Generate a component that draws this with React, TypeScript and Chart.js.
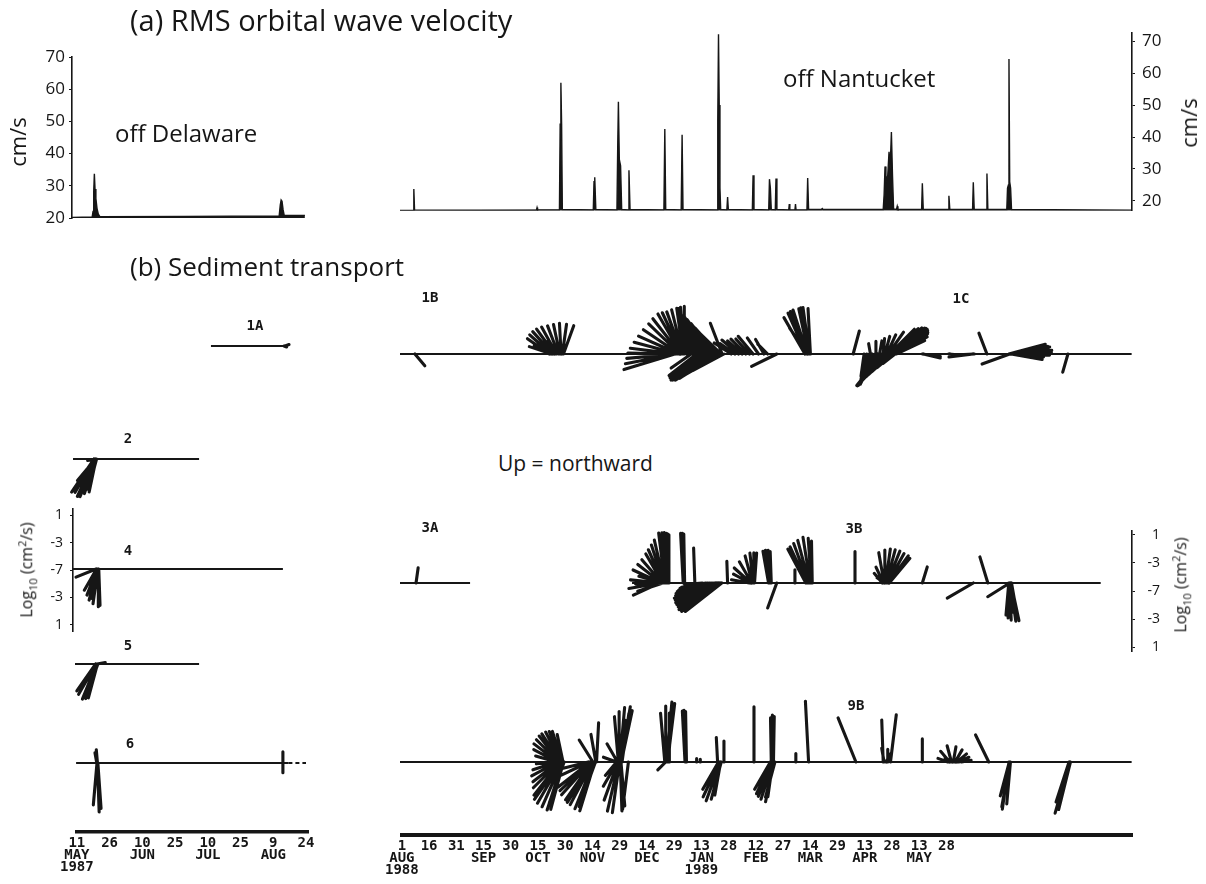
import React, { useEffect, useRef } from "react";
import { Chart, registerables } from "chart.js";
Chart.register(...registerables);

const INK = "#161616";
const SANS = "'Open Sans', 'DejaVu Sans', sans-serif";
const MONO = "'DejaVu Sans Mono', monospace";

// ---------------- DATA ----------------
// Time axes: days since 11 May 1987 (Delaware) and 1 Aug 1988 (Nantucket)
const DEL_TICK_DAYS = [0, 15, 30, 45, 60, 75, 90, 105];
const DEL_TICK_LABELS = [["11", "MAY", "1987"], ["26"], ["10", "JUN"], ["25"], ["10", "JUL"], ["25"], ["9", "AUG"], ["24"]];
const NAN_TICK_DAYS = [0, 15, 30, 45, 60, 75, 90, 105, 120, 135, 150, 165, 180, 195, 210, 225, 240, 255, 270, 285, 300];
const NAN_TICK_LABELS = [["1", "AUG", "1988"], ["16"], ["31"], ["15", "SEP"], ["30"], ["15", "OCT"], ["30"], ["14", "NOV"], ["29"], ["14", "DEC"], ["29"], ["13", "JAN", "1989"], ["28"], ["12", "FEB"], ["27"], ["14", "MAR"], ["29"], ["13", "APR"], ["28"], ["13", "MAY"], ["28"]];

// (a) RMS orbital wave velocity, cm/s
const VEL_TICKS = [20, 30, 40, 50, 60, 70];
const DEL_VEL_DAYS = [-1.3, 7.8, 8.2, 8.5, 8.8, 9.1, 9.5, 10.0, 10.6, 11.3, 50, 92.8, 93.3, 93.7, 94.1, 94.6, 95.1, 104.5];
const DEL_VEL = [20.2, 20.3, 22, 28, 33.7, 29, 26, 23, 21.2, 20.4, 20.5, 20.6, 24, 25.6, 25.2, 22.5, 20.8, 20.8];
const NAN_VEL_DAYS = [0, 7.2, 7.6, 8.0, 75, 75.3, 75.6, 87.6, 88.0, 88.4, 88.8, 89.2, 106.2, 106.6, 107.0, 107.6, 119.2, 119.6, 120.0, 120.5, 121.2, 121.8, 125.3, 125.8, 126.4, 145.0, 145.5, 146.0, 154.5, 155.0, 155.5, 174.2, 174.6, 175.0, 175.4, 175.8, 176.2, 179.6, 180.0, 180.4, 193.6, 194.0, 194.5, 202.6, 203.0, 203.5, 204.0, 206.2, 206.6, 207.1, 213.6, 213.9, 214.2, 217.0, 217.3, 217.6, 223.6, 224.0, 224.5, 231.5, 232.0, 232.5, 265.5, 266.0, 266.5, 267.0, 268.0, 268.7, 269.3, 270.0, 270.6, 271.2, 272.8, 273.2, 273.6, 286.6, 287.0, 287.5, 301.2, 301.6, 302.1, 314.6, 315.0, 315.5, 322.1, 322.5, 323.0, 333.4, 333.8, 334.3, 334.6, 335.0, 335.5, 336.0, 402.2];
const NAN_VEL = [17.0, 17.0, 23.7, 17.1, 17.2, 17.9, 17.2, 17.2, 44, 57, 44, 17.3, 17.2, 26, 27.4, 17.3, 17.2, 36, 51, 33, 31, 17.3, 17.2, 29.6, 17.3, 17.2, 42.5, 17.3, 17.2, 40.7, 17.3, 17.2, 45, 72.2, 50, 24, 17.3, 17.2, 21.2, 17.3, 17.2, 28, 17.3, 17.2, 26.8, 24, 17.3, 17.2, 27.0, 17.3, 17.2, 19.0, 17.2, 17.2, 19.0, 17.2, 17.2, 27.2, 17.3, 17.3, 17.6, 17.3, 17.3, 22, 30.8, 26, 28, 35.4, 30, 41.6, 28, 17.5, 17.3, 18.3, 17.3, 17.3, 25.5, 17.3, 17.3, 21.6, 17.3, 17.3, 25.8, 17.3, 17.3, 28.6, 17.3, 17.3, 24, 25, 64.4, 26, 24, 17.3, 17.1];

// (b) Sediment transport sticks: [day, bearing deg clockwise from north, log10(q)+7]
const LOG_TICKS = [-8, -4, 0, 4, 8];
const LOG_TICK_LABELS = ["1", "-3", "-7", "-3", "1"];

const SPAN_1A = [61.8, 96.4];
const STICKS_1A = [[95.5, 70, 0.6], [95.0, 110, 0.4]];

const SPAN_2 = [-0.9, 56.4];
const STICKS_2 = [[8.6, -146, 5.7], [8.8, -150, 5.5], [9.0, -155, 5.9], [9.2, -158, 5.8], [9.4, -162, 5.2], [9.6, -168, 4.8], [9.8, -165, 4.5], [9.3, -140, 4.0], [9.5, -100, 1.2]];

const SPAN_4 = [-0.9, 94.5];
const STICKS_4 = [[9.6, -112, 3.1], [9.8, -150, 3.5], [10.0, -159, 4.0], [10.2, -165, 4.6], [10.4, -172, 5.0], [10.6, 180, 5.4], [10.8, 178, 5.2], [10.5, -168, 4.3]];

const SPAN_5 = [0, 56.4];
const STICKS_5 = [[9.4, -145, 4.7], [9.6, -150, 5.0], [9.8, -158, 5.4], [10.0, -162, 5.2], [10.2, -165, 5.0], [10.4, -160, 4.2], [10.0, 80, 1.2]];

const SPAN_6 = [0.5, 97];
const SPAN_6_DASH = [97, 105];
const STICKS_6 = [[10.2, 178, 7.0], [10.4, 176, 6.5], [10.0, -175, 6.0], [10.2, -5, 1.9], [9.9, -10, 1.5], [94.5, 0, 1.6], [94.5, 180, 1.4]];

const SPAN_1BC = [0, 402];
const STICKS_1BC = [
  [8.2, 140, 2.2],
  [82.0, -55, 3.8], [83.0, -48, 4.1], [84.0, -42, 4.3], [85.0, -36, 4.4], [86.0, -29, 4.4], [87.0, -21, 4.3], [87.8, -12, 4.3], [88.5, -3, 4.4], [89.2, 8, 4.3], [89.8, 20, 4.3], [83.5, -72, 3.4], [85.5, -68, 3.3], [87.5, -62, 3.0], [88.5, -50, 2.8],
  [151.0, -107, 7.6], [151.4, -101, 7.3], [151.8, -95, 7.1], [152.1, -89, 7.0], [152.5, -83, 6.8], [152.8, -75, 6.5], [153.2, -66, 6.3], [153.5, -56, 6.2], [153.8, -46, 6.2], [154.1, -38, 6.4], [154.4, -30, 6.6], [154.7, -25, 6.5], [155.0, -20, 6.4], [155.3, -14, 6.5], [155.6, -8, 6.6], [155.9, -4, 6.7], [156.2, 0, 6.8],
  [157.5, -10, 6.6], [159, -14, 6.5], [161, -18, 6.4], [163, -22, 6.4], [165, -26, 6.5], [167, -30, 6.3], [169, -32, 6.2], [171, -35, 6.0], [173, -38, 5.5], [175, -42, 5.0], [176.5, -46, 4.2],
  [158, -12, 5.8], [160, -16, 5.9], [162, -20, 6.0], [164, -24, 6.1], [166, -28, 5.9], [168, -31, 5.8], [170, -34, 5.6], [172, -37, 5.2], [174, -40, 4.8],
  [160, -125, 3.5], [163, -128, 5.0], [166, -130, 5.8], [169, -128, 6.0], [172, -125, 6.3], [175, -122, 6.0], [178, -118, 5.0], [164.5, -129, 5.4], [167.5, -129, 5.9], [170.5, -127, 6.2], [173.5, -124, 6.2], [176.5, -120, 5.5],
  [177, -21, 4.7], [182, -57, 2.9], [186, -50, 3.1], [190, -45, 3.0], [194, -40, 3.3], [197, -35, 2.8], [200, -30, 2.4], [202, -45, 2.0], [184, -55, 2.6], [188, -48, 2.8], [192, -42, 2.9],
  [207, -116, 4.0],
  [222.5, -30, 6.0], [223.2, -24, 6.4], [223.8, -18, 6.6], [224.4, -12, 6.6], [225.0, -8, 6.7], [225.5, -3, 6.5], [224.0, -35, 4.5], [223.5, -21, 6.5], [224.7, -10, 6.7],
  [249, 15, 3.4],
  [255, -172, 3.2], [256.5, -167, 3.8], [258, -162, 4.3], [259.5, -158, 4.6], [261, -154, 4.8],
  [262, -150, 4.5], [263, -147, 5.2], [264, -144, 5.6], [265, -141, 5.8], [266, -140, 5.8], [267, -138, 5.6], [268, -136, 5.2], [269, -134, 4.6], [270, -132, 3.8], [271, -130, 3.0], [272, -128, 2.2], [262.5, -148, 4.9], [263.5, -146, 5.4], [264.5, -143, 5.7], [265.5, -141, 5.8], [266.5, -139, 5.7], [267.5, -137, 5.4], [268.5, -135, 4.9], [269.5, -133, 4.2],
  [258.5, -10, 1.5], [261.5, 0, 1.8], [263.5, 10, 1.9],
  [265.5, 5, 2.2], [266.5, 15, 2.6], [267.5, 25, 3.0], [268.3, 35, 3.8], [269.0, 45, 5.0], [269.6, 50, 5.8], [270.2, 53, 6.1], [270.8, 56, 6.0], [271.4, 59, 5.6], [272.0, 62, 5.2], [272.6, 65, 4.5], [269.3, 48, 5.4], [269.9, 52, 6.0], [270.5, 55, 6.1], [271.1, 58, 5.8],
  [287, 98, 2.6], [287.5, 103, 2.5],
  [301.5, 95, 1.6], [302, 100, 1.4], [315, -97, 3.5], [315.5, -93, 3.0],
  [322.5, -21, 3.2],
  [335, -110, 4.2],
  [334.5, 75, 5.4], [335.0, 80, 5.8], [335.5, 85, 5.9], [336.0, 88, 5.7], [336.5, 92, 5.3], [335.2, 95, 4.8], [335.8, 100, 4.5], [336.2, 78, 5.2], [334.8, 83, 5.6], [335.3, 90, 5.5],
  [367, -164, 2.7],
];

const SPAN_3A = [0, 38.5];
const STICKS_3A = [[8.8, 8, 2.2]];

const SPAN_3B = [127.5, 385];
const STICKS_3B = [
  [142.5, -115, 4.1], [142.8, -100, 4.5], [143.1, -84, 4.3], [143.4, -65, 4.4], [143.7, -52, 4.3], [144.0, -41, 4.4], [144.3, -30, 4.8], [144.6, -24, 5.2], [144.9, -18, 5.7], [145.2, -13, 6.3], [145.5, -7, 7.2], [145.8, -4, 7.2], [146.1, -2, 7.2], [146.4, 0, 7.1], [146.7, 1, 7.0], [144.5, -108, 3.8], [144.8, -92, 4.0], [145.0, -75, 3.7], [147.0, 0, 7.0], [147.3, 1, 6.9],
  [155.6, -3, 7.1], [156.0, -2, 7.1], [156.4, -1, 7.0],
  [162, -2, 5.0],
  [166, -95, 2.5], [168, -100, 3.5], [170, -103, 4.5], [172, -106, 5.5], [173.5, -110, 6.3], [174.5, -115, 6.6], [175.5, -120, 6.8], [176.2, -126, 6.9], [176.8, -128, 6.6], [175.0, -124, 6.8], [176.0, -112, 6.0], [169, -101, 4.0], [171, -104, 5.0], [173, -108, 5.9], [174, -112, 6.4], [175, -117, 6.7],
  [180, -2, 3.1],
  [192.0, -80, 2.6], [192.4, -62, 2.7], [192.8, -48, 3.2], [193.2, -30, 3.5], [193.6, -15, 4.0], [194.0, -6, 4.3], [194.4, 0, 4.3], [194.8, 4, 4.3],
  [202.5, -10, 4.6], [203.0, -7, 4.7], [203.5, -4, 4.7], [204.0, -2, 4.5],
  [207, -160, 3.8],
  [217, 0, 1.9],
  [223.0, -28, 5.5], [223.6, -25, 5.7], [224.2, -20, 6.0], [224.8, -15, 6.3], [225.4, -9, 6.6], [226.0, -4, 6.4], [226.5, -1, 6.0],
  [250, 0, 4.5],
  [265.0, -40, 1.8], [265.6, -25, 2.5], [266.0, -10, 4.4], [266.4, 0, 4.7], [266.8, 8, 4.9], [267.2, 15, 4.9], [267.6, 22, 4.9], [268.0, 29, 4.8], [268.4, 36, 4.8], [268.8, 40, 4.6], [266.2, -55, 1.3],
  [287, 17, 2.4],
  [315, -120, 4.3],
  [323, -17, 3.9],
  [335, -122, 3.7],
  [334.5, -175, 4.6], [334.8, -178, 5.0], [335.1, 178, 5.3], [335.4, 172, 5.5], [335.7, 168, 5.5], [336.0, 170, 5.0], [335.2, 175, 4.2],
];

const SPAN_9B = [0, 402];
const STICKS_9B = [
  [86.0, -74, 3.1], [86.4, -62, 3.8], [86.8, -53, 4.3], [87.2, -45, 4.5], [87.6, -38, 4.7], [88.0, -33, 4.8], [88.4, -27, 4.8], [88.8, -22, 4.7], [89.2, -18, 4.6], [89.6, -12, 4.0],
  [86.2, -108, 3.6], [86.6, -118, 4.2], [87.0, -128, 4.6], [87.4, -135, 5.2], [87.8, -142, 6.0], [88.2, -145, 6.5], [88.6, -150, 6.8], [89.0, -156, 7.0], [89.4, -162, 7.2], [89.8, -165, 7.0], [90.2, -160, 6.2], [86.4, -95, 3.0],
  [103.5, -104, 4.3], [104.0, -115, 5.0], [104.5, -128, 5.8], [105.0, -138, 6.3], [105.5, -145, 6.6], [106.0, -152, 6.9], [106.5, -158, 7.2], [107.0, -163, 7.3], [107.4, -160, 6.8], [104.8, -133, 6.0], [105.8, -148, 6.8],
  [106.0, -32, 3.7], [108.0, 3, 5.6], [107.6, -10, 4.0],
  [119.0, -70, 2.0], [119.5, -30, 3.0], [120.0, -5, 6.5], [120.4, 0, 7.2], [120.8, 5, 7.8], [121.2, 10, 8.0], [121.6, 12, 7.5], [122.0, 8, 7.0], [120.6, 8, 6.0],
  [119.0, -140, 2.5], [119.4, -150, 4.0], [119.8, -160, 5.8], [120.2, -167, 7.2], [120.6, -172, 7.3], [121.0, 178, 7.0], [121.4, 175, 6.3], [125.5, -173, 6.8],
  [145.5, -5, 7.0], [146.0, 0, 8.0], [146.5, 5, 8.6], [147.0, 7, 8.4], [147.5, 4, 8.0], [148.0, 0, 7.0], [146.0, -135, 1.6],
  [156.6, -3, 7.3], [157.0, -2, 7.4], [157.4, -1, 7.2],
  [163, 0, 0.5], [165, 0, 0.4],
  [174.5, -3, 3.5], [178.0, 0, 3.0],
  [175.0, -150, 4.5], [175.5, -155, 5.5], [176.0, -160, 5.9], [176.5, -165, 5.5], [176.2, -170, 4.8],
  [194.5, 0, 7.9],
  [204.0, -1, 6.3], [204.6, 0, 6.7], [205.2, 1, 6.5],
  [203.5, -150, 4.5], [204.0, -155, 5.0], [204.5, -158, 5.3], [205.0, -162, 5.6], [205.5, -168, 5.8], [206.0, -165, 5.2], [204.8, -172, 5.0],
  [217.5, 0, 1.2],
  [224.5, -3, 8.7],
  [250.5, -22, 6.8],
  [265.5, -2, 6.0], [266.0, -10, 2.0], [267.0, 30, 1.5], [269.5, 7, 6.8], [268.0, 0, 1.8],
  [287.0, 0, 3.3],
  [301.0, -70, 1.5], [302.0, -40, 2.0], [303.0, -15, 2.4], [304.0, 10, 2.2], [305.0, 30, 2.0], [306.0, 50, 1.8], [307.0, 65, 1.6], [308.5, 80, 1.4], [303.5, -60, 1.2], [305.5, 80, 1.0],
  [323.5, -26, 4.3],
  [334.6, -172, 6.8], [335.0, -170, 6.5], [335.4, -175, 6.0], [334.8, -165, 5.0],
  [368.0, -164, 7.6], [368.4, -166, 7.0], [367.6, -162, 6.0],
];

// ---------------- LAYOUT ----------------
const DEL_X0 = 75, DEL_PPD = 2.2;
const NAN_X0 = 400, NAN_PPD = 1.82;
const PPU = 7;

type Box = { left: number; top: number; width: number; height: number };

function baseOptions(padding: any, scales: any) {
  return {
    responsive: false,
    maintainAspectRatio: false,
    animation: false,
    devicePixelRatio: 1,
    events: [],
    layout: { padding },
    plugins: { legend: { display: false }, tooltip: { enabled: false } },
    scales,
  };
}

function stickPoints(sticks: number[][], k: number) {
  const pts: any[] = [];
  for (const [d, b, L] of sticks) {
    const r = (b * Math.PI) / 180;
    pts.push({ x: d, y: 0 }, { x: d + L * Math.sin(r) * k, y: L * Math.cos(r) }, { x: d, y: null });
  }
  return pts;
}

function stickPanel(site: "D" | "N", baseline: number, spans: { s: number[]; dash?: boolean }[], sticks: number[][]) {
  const m = site === "D" ? { x0: DEL_X0, ppd: DEL_PPD, l: 58, r: 322 } : { x0: NAN_X0, ppd: NAN_PPD, l: 385, r: 1145 };
  const t = baseline - 9 * PPU, b = baseline + 9 * PPU;
  const pad = 12;
  const box: Box = { left: m.l - pad, top: t - pad, width: m.r - m.l + 2 * pad, height: b - t + 2 * pad };
  const build = (canvas: HTMLCanvasElement) => {
    const datasets: any[] = spans.map((sp) => ({
      data: [{ x: sp.s[0], y: 0 }, { x: sp.s[1], y: 0 }],
      borderColor: INK,
      borderWidth: 1.9,
      borderDash: sp.dash ? [4, 3] : [],
      pointRadius: 0,
      clip: false,
    }));
    datasets.push({
      data: [],
      borderColor: INK,
      borderWidth: 3.1,
      borderCapStyle: "round",
      borderJoinStyle: "round",
      pointRadius: 0,
      spanGaps: false,
      clip: false,
    });
    const chart = new Chart(canvas, {
      type: "line",
      data: { datasets },
      options: baseOptions(pad, {
        x: { type: "linear", display: false, min: (m.l - m.x0) / m.ppd, max: (m.r - m.x0) / m.ppd },
        y: { type: "linear", display: false, min: -9, max: 9 },
      }),
    } as any);
    const xs: any = chart.scales.x, ys: any = chart.scales.y;
    const k = Math.abs(ys.getPixelForValue(1) - ys.getPixelForValue(0)) / Math.abs(xs.getPixelForValue(1) - xs.getPixelForValue(0));
    (chart.data.datasets[datasets.length - 1] as any).data = stickPoints(sticks, k);
    chart.update();
    return chart;
  };
  return { box, build };
}

function velPanel(site: "D" | "N") {
  const isD = site === "D";
  const area = isD ? { l: 72, r: 312, t: 57, b: 218 } : { l: 392, r: 1132, t: 32, b: 212 };
  const axisW = isD ? 46 : 44;
  const pad = isD ? { left: 6, right: 10, top: 16, bottom: 16 } : { left: 8, right: 8, top: 16, bottom: 16 };
  const box: Box = isD
    ? { left: area.l - axisW - pad.left, top: area.t - pad.top, width: area.r + pad.right - (area.l - axisW - pad.left), height: area.b - area.t + pad.top + pad.bottom }
    : { left: area.l - pad.left, top: area.t - pad.top, width: area.r + axisW + pad.right - (area.l - pad.left), height: area.b - area.t + pad.top + pad.bottom };
  const x0 = isD ? DEL_X0 : NAN_X0, ppd = isD ? DEL_PPD : NAN_PPD;
  const days = isD ? DEL_VEL_DAYS : NAN_VEL_DAYS;
  const vals = isD ? DEL_VEL : NAN_VEL;
  const build = (canvas: HTMLCanvasElement) =>
    new Chart(canvas, {
      type: "line",
      data: {
        datasets: [
          {
            data: days.map((d, i) => ({ x: d, y: vals[i] })),
            borderColor: INK,
            backgroundColor: INK,
            borderWidth: 1.4,
            fill: "start",
            pointRadius: 0,
            tension: 0,
          },
        ],
      },
      options: baseOptions(pad, {
        x: { type: "linear", display: false, min: (area.l - x0) / ppd, max: (area.r - x0) / ppd },
        y: {
          type: "linear",
          position: isD ? "left" : "right",
          min: isD ? 20 : 16.9,
          max: isD ? 70 : 72.5,
          afterBuildTicks: (s: any) => {
            s.ticks = VEL_TICKS.map((v) => ({ value: v }));
          },
          afterFit: (s: any) => {
            s.width = axisW;
          },
          ticks: { color: INK, font: { family: SANS, size: 17 }, padding: isD ? 4 : 7 },
          grid: { display: true, drawOnChartArea: false, drawTicks: true, tickLength: 3, color: INK },
          border: { display: true, color: INK, width: 1.6 },
        },
      }),
    } as any);
  return { box, build };
}

function logAxis(side: "L" | "R") {
  const isL = side === "L";
  const area = isL ? { l: 73, r: 76, t: 507, b: 633 } : { l: 1126, r: 1132, t: 531, b: 651 };
  const axisW = isL ? 30 : 28;
  const pad = 14;
  const box: Box = isL
    ? { left: area.l - axisW - pad, top: area.t - pad, width: area.r + pad - (area.l - axisW - pad), height: area.b - area.t + 2 * pad }
    : { left: area.l - pad, top: area.t - pad, width: area.r + axisW + pad - (area.l - pad), height: area.b - area.t + 2 * pad };
  const lim = isL ? 9 : 8.5;
  const build = (canvas: HTMLCanvasElement) =>
    new Chart(canvas, {
      type: "line",
      data: { datasets: [] },
      options: baseOptions(pad, {
        x: { type: "linear", display: false, min: 0, max: 1 },
        y: {
          type: "linear",
          position: isL ? "left" : "right",
          min: -lim,
          max: lim,
          afterBuildTicks: (s: any) => {
            s.ticks = LOG_TICKS.map((v) => ({ value: v }));
          },
          afterFit: (s: any) => {
            s.width = axisW;
          },
          ticks: {
            color: INK,
            font: { family: SANS, size: 14 },
            padding: isL ? 7 : 5,
            crossAlign: isL ? "near" : "far",
            callback: (_v: any, i: number) => LOG_TICK_LABELS[i],
          },
          grid: { display: true, drawOnChartArea: false, drawTicks: true, tickLength: 3, color: INK },
          border: { display: true, color: INK, width: 1.6 },
        },
      }),
    } as any);
  return { box, build };
}

function timeAxis(site: "D" | "N") {
  const isD = site === "D";
  const area = isD ? { l: 75, r: 308, b: 832 } : { l: 400, r: 1132, b: 835 };
  const axisH = 884 - area.b;
  const pad = { left: 20, right: 20, top: 4, bottom: 0 };
  const box: Box = { left: area.l - pad.left, top: area.b - 4 - pad.top, width: area.r - area.l + pad.left + pad.right, height: 4 + pad.top + axisH };
  const x0 = isD ? DEL_X0 : NAN_X0, ppd = isD ? DEL_PPD : NAN_PPD;
  const tickDays = isD ? DEL_TICK_DAYS : NAN_TICK_DAYS;
  const tickLabels = isD ? DEL_TICK_LABELS : NAN_TICK_LABELS;
  const build = (canvas: HTMLCanvasElement) =>
    new Chart(canvas, {
      type: "line",
      data: { datasets: [] },
      options: baseOptions(pad, {
        x: {
          type: "linear",
          position: "bottom",
          min: (area.l - x0) / ppd,
          max: (area.r - x0) / ppd,
          afterBuildTicks: (s: any) => {
            s.ticks = tickDays.map((v) => ({ value: v }));
          },
          afterFit: (s: any) => {
            s.height = axisH;
          },
          ticks: {
            color: INK,
            autoSkip: false,
            maxRotation: 0,
            minRotation: 0,
            padding: 5,
            font: { family: MONO, size: 14, weight: "bold", lineHeight: 0.86 },
            callback: (_v: any, i: number) => tickLabels[i],
          },
          grid: { display: false, drawTicks: false },
          border: { display: true, color: INK, width: isD ? 3.5 : 4 },
        },
        y: { type: "linear", display: false, min: 0, max: 1 },
      }),
    } as any);
  return { box, build };
}

const PANELS = [
  velPanel("D"),
  velPanel("N"),
  stickPanel("D", 346, [{ s: SPAN_1A }], STICKS_1A),
  stickPanel("N", 354, [{ s: SPAN_1BC }], STICKS_1BC),
  stickPanel("D", 459, [{ s: SPAN_2 }], STICKS_2),
  stickPanel("D", 569, [{ s: SPAN_4 }], STICKS_4),
  stickPanel("D", 664, [{ s: SPAN_5 }], STICKS_5),
  stickPanel("D", 763, [{ s: SPAN_6 }, { s: SPAN_6_DASH, dash: true }], STICKS_6),
  stickPanel("N", 583, [{ s: SPAN_3A }], STICKS_3A),
  stickPanel("N", 583, [{ s: SPAN_3B }], STICKS_3B),
  stickPanel("N", 762, [{ s: SPAN_9B }], STICKS_9B),
  logAxis("L"),
  logAxis("R"),
  timeAxis("D"),
  timeAxis("N"),
];

function ChartCanvas({ box, build }: { box: Box; build: (c: HTMLCanvasElement) => Chart }) {
  const ref = useRef<HTMLCanvasElement>(null);
  useEffect(() => {
    const chart = build(ref.current as HTMLCanvasElement);
    return () => chart.destroy();
  }, []);
  return (
    <canvas
      ref={ref}
      width={box.width}
      height={box.height}
      style={{ position: "absolute", left: box.left, top: box.top, width: box.width, height: box.height }}
    />
  );
}

function Txt({ x, y, size, children, family = SANS, rotate = false, bold = false, center = false }: any) {
  return (
    <div
      style={{
        position: "absolute",
        left: x,
        top: y,
        fontFamily: family,
        fontSize: size,
        fontWeight: bold ? 700 : 400,
        color: INK,
        whiteSpace: "nowrap",
        lineHeight: 1,
        transform: rotate ? "translate(-50%,-50%) rotate(-90deg)" : center ? "translate(-50%,-50%)" : "translateY(-50%)",
      }}
    >
      {children}
    </div>
  );
}

export default function App() {
  return (
    <div style={{ position: "fixed", left: 0, top: 0, width: 1206, height: 884, background: "#fff", overflow: "hidden" }}>
      {PANELS.map((p, i) => (
        <ChartCanvas key={i} box={p.box} build={p.build} />
      ))}
      <Txt x={130} y={19} size={29}>(a) RMS orbital wave velocity</Txt>
      <Txt x={130} y={266} size={26}>(b) Sediment transport</Txt>
      <Txt x={115} y={133} size={24}>off Delaware</Txt>
      <Txt x={783} y={78} size={24}>off Nantucket</Txt>
      <Txt x={498} y={463} size={21}>Up = northward</Txt>
      <Txt x={17} y={142} size={22} rotate>cm/s</Txt>
      <Txt x={1188} y={123} size={22} rotate>cm/s</Txt>
      <Txt x={27} y={570} size={16} rotate>
        Log<sub style={{ fontSize: 11 }}>10</sub> (cm<sup style={{ fontSize: 11 }}>2</sup>/s)
      </Txt>
      <Txt x={1181} y={585} size={16} rotate>
        Log<sub style={{ fontSize: 11 }}>10</sub> (cm<sup style={{ fontSize: 11 }}>2</sup>/s)
      </Txt>
      <Txt x={255} y={325} size={14} family={MONO} bold center>1A</Txt>
      <Txt x={430} y={297} size={14} family={MONO} bold center>1B</Txt>
      <Txt x={961} y={298} size={14} family={MONO} bold center>1C</Txt>
      <Txt x={128} y={438} size={14} family={MONO} bold center>2</Txt>
      <Txt x={128} y={550} size={14} family={MONO} bold center>4</Txt>
      <Txt x={128} y={645} size={14} family={MONO} bold center>5</Txt>
      <Txt x={130} y={743} size={14} family={MONO} bold center>6</Txt>
      <Txt x={430} y={527} size={14} family={MONO} bold center>3A</Txt>
      <Txt x={854} y={528} size={14} family={MONO} bold center>3B</Txt>
      <Txt x={856} y={705} size={14} family={MONO} bold center>9B</Txt>
    </div>
  );
}
